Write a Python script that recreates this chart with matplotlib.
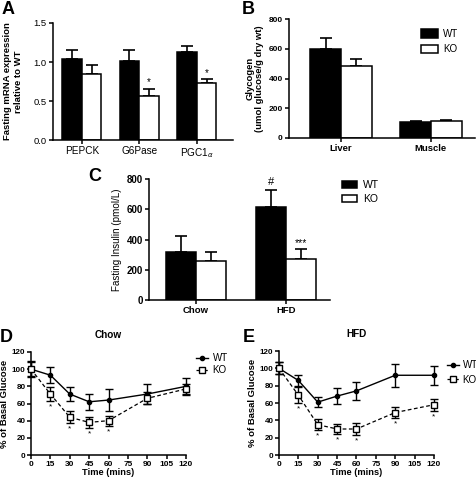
import matplotlib
matplotlib.use("Agg")
import matplotlib.pyplot as plt
from matplotlib.patches import Patch
from matplotlib.lines import Line2D
import numpy as np

plt.rcParams['font.family'] = ['Liberation Sans', 'DejaVu Sans']
plt.rcParams['mathtext.fontset'] = 'custom'
plt.rcParams['mathtext.rm'] = 'Liberation Sans'

# ---- data ----
genes = ["PEPCK", "G6Pase", "PGC1$_{\\alpha}$"]
a_wt = [1.04, 1.01, 1.13]
a_wt_err = [0.12, 0.15, 0.08]
a_ko = [0.84, 0.57, 0.73]
a_ko_err = [0.12, 0.09, 0.05]

tissues = ["Liver", "Muscle"]
b_wt = [600, 105]
b_wt_err = [70, 10]
b_ko = [487, 112]
b_ko_err = [43, 10]

diets = ["Chow", "HFD"]
c_wt = [320, 615]
c_wt_err = [105, 110]
c_ko = [258, 270]
c_ko_err = [62, 65]

times = [0, 15, 30, 45, 60, 90, 120]
d_wt = [100, 93, 71, 62, 64, 71, 80]
d_wt_err = [9, 9, 8, 9, 13, 12, 10]
d_ko = [100, 71, 44, 38, 40, 66, 77]
d_ko_err = [8, 8, 7, 6, 6, 7, 6]
d_sig = [15, 30, 45, 60]

e_wt = [100, 86, 61, 68, 74, 92, 92]
e_wt_err = [7, 6, 6, 9, 10, 13, 11]
e_ko = [100, 69, 35, 30, 30, 49, 58]
e_ko_err = [7, 9, 6, 6, 7, 6, 7]
e_sig = [15, 30, 45, 60, 90, 120]

W, H = 477, 480
fig = plt.figure(figsize=(W / 100, H / 100), dpi=100)


def add_ax(x0, x1, ytop, ybot):
    return fig.add_axes([x0 / W, 1 - ybot / H, (x1 - x0) / W, (ybot - ytop) / H])


def style(ax):
    for s in ['top', 'right']:
        ax.spines[s].set_visible(False)
    for s in ['left', 'bottom']:
        ax.spines[s].set_linewidth(1.1)
    ax.tick_params(direction='out', length=3, width=1.1, pad=1.5)


def bars(ax, wt, wte, ko, koe, width, cap):
    x = np.arange(len(wt))
    ax.bar(x - width / 2, wt, width, color='black', edgecolor='black', linewidth=1.1, zorder=2)
    ax.bar(x + width / 2, ko, width, color='white', edgecolor='black', linewidth=1.1, zorder=2)
    ax.errorbar(x - width / 2, wt, yerr=[np.zeros(len(wt)), wte], fmt='none', ecolor='black',
                elinewidth=1.2, capsize=cap, capthick=1.2, zorder=1)
    ax.errorbar(x + width / 2, ko, yerr=[np.zeros(len(ko)), koe], fmt='none', ecolor='black',
                elinewidth=1.2, capsize=cap, capthick=1.2, zorder=1)
    ax.set_xticks(x)
    return x


def bold_ticks(ax, which='both'):
    labs = []
    if which in ('both', 'x'):
        labs += ax.get_xticklabels()
    if which in ('both', 'y'):
        labs += ax.get_yticklabels()
    for t in labs:
        t.set_fontweight('bold')


# ---- Panel A ----
axA = add_ax(53, 233, 23, 140)
style(axA)
x = bars(axA, a_wt, a_wt_err, a_ko, a_ko_err, 0.34, 4)
axA.set_xlim(-0.5, 2.63)
axA.set_ylim(0, 1.5)
axA.set_yticks([0, 0.5, 1.0, 1.5])
axA.set_yticklabels(["0.0", "0.5", "1.0", "1.5"])
axA.tick_params(axis='y', labelsize=6.8)
axA.set_xticklabels(genes, fontsize=7.2)
axA.set_ylabel("Fasting mRNA expression\nrelative to WT", fontsize=6.8, fontweight='bold',
               labelpad=8, linespacing=1.2)
for i in [1, 2]:
    axA.text(x[i] + 0.17, a_ko[i] + a_ko_err[i] + 0.02, "*", ha='center', va='bottom', fontsize=7)

# ---- Panel B ----
axB = add_ax(289, 475, 19, 138)
style(axB)
x = bars(axB, b_wt, b_wt_err, b_ko, b_ko_err, 0.34, 4.5)
axB.set_xlim(-0.578, 1.49)
axB.set_ylim(0, 800)
axB.set_yticks([0, 200, 400, 600, 800])
axB.tick_params(axis='y', labelsize=6)
axB.set_xticklabels(tissues, fontsize=6.8)
bold_ticks(axB)
axB.set_ylabel("Glycogen\n(umol glucose/g dry wt)", fontsize=6.8, fontweight='bold',
               labelpad=3, linespacing=1.15)
hB = [Patch(facecolor='black', edgecolor='black', linewidth=1.1),
      Patch(facecolor='white', edgecolor='black', linewidth=1.1)]
axB.legend(hB, ["WT", "KO"], loc='upper left', bbox_to_anchor=(421 / W, 1 - 29 / H),
           bbox_transform=fig.transFigure, frameon=False, fontsize=7, borderpad=0,
           borderaxespad=0, handlelength=1.75, handleheight=1.0, handletextpad=0.5,
           labelspacing=0.55)

# ---- Panel C ----
axC = add_ax(149, 330, 179, 300)
style(axC)
x = bars(axC, c_wt, c_wt_err, c_ko, c_ko_err, 0.33, 4.5)
axC.set_xlim(-0.522, 1.49)
axC.set_ylim(0, 800)
axC.set_yticks([0, 200, 400, 600, 800])
axC.tick_params(axis='y', labelsize=7)
axC.set_xticklabels(diets, fontsize=6.8)
bold_ticks(axC)
axC.set_ylabel("Fasting Insulin (pmol/L)", fontsize=7.1, labelpad=3)
axC.text(x[1] - 0.165, c_wt[1] + c_wt_err[1] + 25, "#", ha='center', va='bottom', fontsize=8)
axC.text(x[1] + 0.165, c_ko[1] + c_ko_err[1] + 5, "***", ha='center', va='bottom', fontsize=7.5)
axC.legend(hB, ["WT", "KO"], loc='upper left', bbox_to_anchor=(342 / W, 1 - 180 / H),
           bbox_transform=fig.transFigure, frameon=False, fontsize=7.5, borderpad=0,
           borderaxespad=0, handlelength=1.45, handleheight=0.75, handletextpad=0.55,
           labelspacing=0.4)


# ---- Panels D, E ----
def tolerance(ax, wt, wte, ko, koe, sig, title):
    style(ax)
    ax.errorbar(times, wt, yerr=wte, fmt='-o', color='black', markersize=3, linewidth=1.0,
                elinewidth=1.0, capsize=3, capthick=1.0, clip_on=False, zorder=3)
    ax.errorbar(times, ko, yerr=koe, fmt='--s', color='black', markerfacecolor='white',
                markeredgewidth=1.0, markersize=5, linewidth=0.9, elinewidth=1.0,
                capsize=3, capthick=1.0, clip_on=False, zorder=4, dashes=(3, 2))
    for t in sig:
        i = times.index(t)
        ax.text(t, ko[i] - koe[i] - 3, "*", ha='center', va='top', fontsize=6)
    ax.set_xlim(0, 120)
    ax.set_ylim(0, 120)
    ax.set_xticks([0, 15, 30, 45, 60, 75, 90, 105, 120])
    ax.set_yticks([0, 20, 40, 60, 80, 100, 120])
    ax.tick_params(axis='x', labelsize=6, pad=1)
    ax.tick_params(axis='y', labelsize=5.8, pad=1)
    bold_ticks(ax)
    ax.set_xlabel("Time (mins)", fontsize=6.7, fontweight='bold', labelpad=0.5)
    ax.set_ylabel("% of Basal Glucose", fontsize=6.8, fontweight='bold', labelpad=2)
    ax.set_title(title, fontsize=7.2, fontweight='bold', pad=10)


axD = add_ax(31, 186, 352, 455)
tolerance(axD, d_wt, d_wt_err, d_ko, d_ko_err, d_sig, "Chow")
axE = add_ax(279, 434, 351, 455)
tolerance(axE, e_wt, e_wt_err, e_ko, e_ko_err, e_sig, "HFD")

hL = [Line2D([], [], color='black', marker='o', markersize=3, linewidth=1.0),
      Line2D([], [], color='black', marker='s', markersize=5, markerfacecolor='white',
             linestyle='--', linewidth=0.9, dashes=(2, 1.5))]
axD.legend(hL, ["WT", "KO"], loc='upper left', bbox_to_anchor=(196 / W, 1 - 353 / H),
           bbox_transform=fig.transFigure, frameon=False, fontsize=7, borderpad=0,
           borderaxespad=0, handlelength=1.2, handletextpad=0.5, labelspacing=0.25)
axE.legend(hL, ["WT", "KO"], loc='upper left', bbox_to_anchor=(447 / W, 1 - 360 / H),
           bbox_transform=fig.transFigure, frameon=False, fontsize=7, borderpad=0,
           borderaxespad=0, handlelength=1.2, handletextpad=0.4, labelspacing=0.5)

# panel letters
for lab, px, py in [("A", 2, 1), ("B", 242, 1), ("C", 88, 168), ("D", 0, 329), ("E", 243, 329)]:
    fig.text(px / W, 1 - py / H, lab, fontsize=13, fontweight='bold', va='top', ha='left')

fig.savefig("out.png", dpi=100)
